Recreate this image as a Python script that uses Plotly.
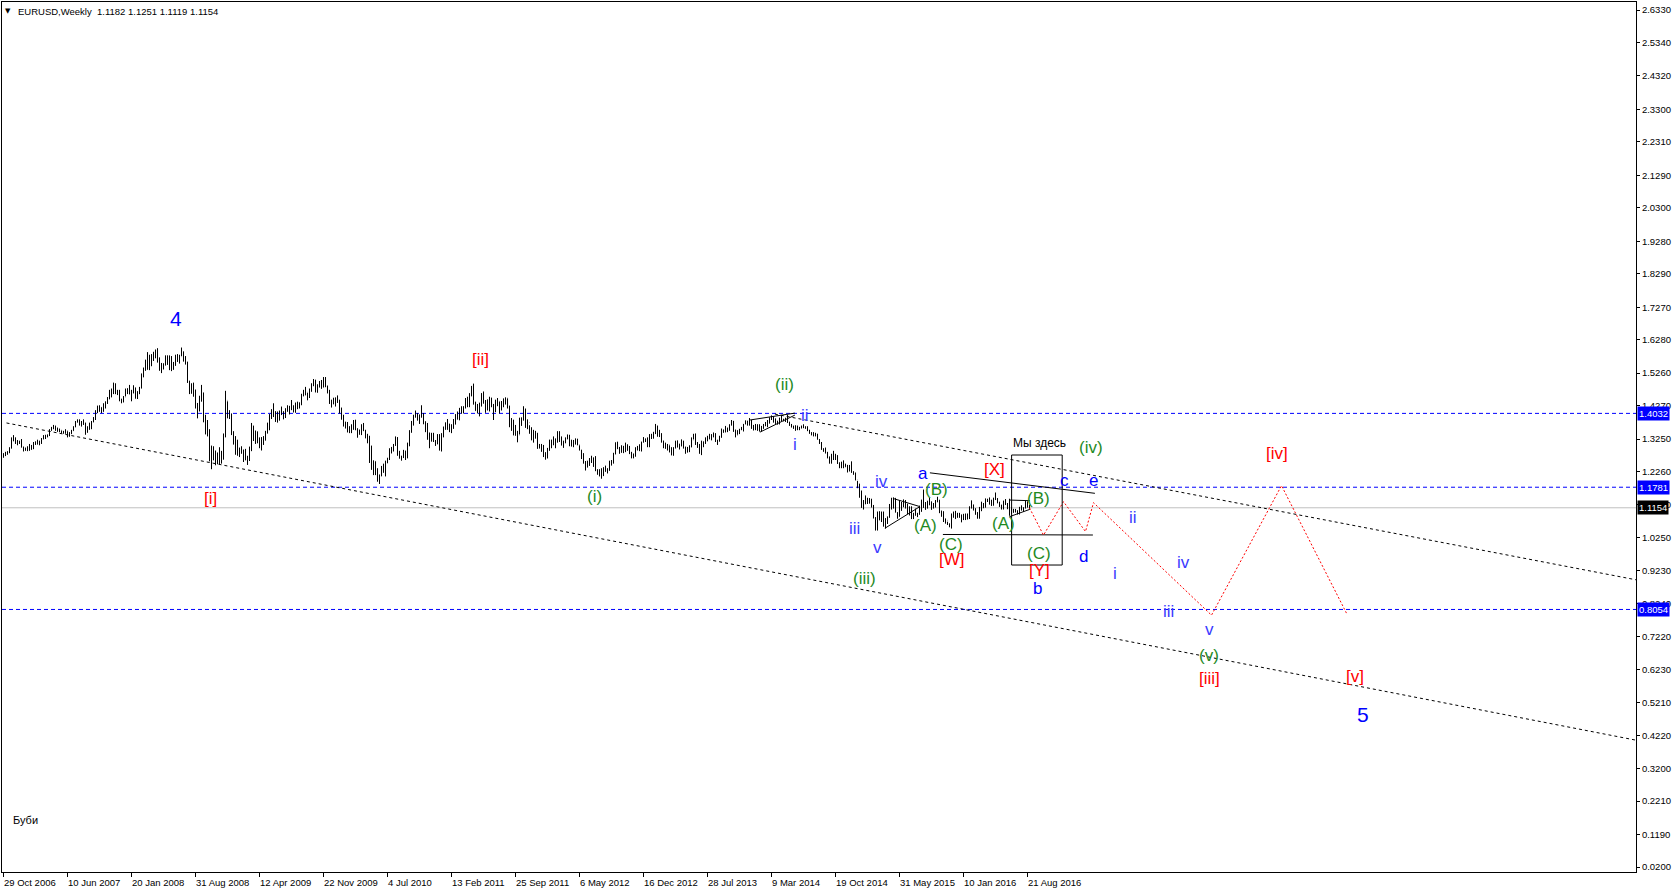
import plotly.graph_objects as go
import pandas as pd

# ---------------- data ----------------
first_bar_date = "2006-10-29"
first_open = 1.2700

wk_high = [
 1.282,1.286,1.288,1.300,1.330,1.337,1.330,1.322,1.320,1.325,
 # 2007
 1.302,1.299,1.303,1.310,1.307,1.316,1.318,1.323,1.320,1.328,1.337,1.338,1.339,1.355,1.362,1.368,1.366,1.360,1.357,1.351,1.350,1.355,1.349,1.346,1.353,1.364,
 1.380,1.385,1.385,1.380,1.385,1.375,1.364,1.375,1.380,1.392,1.413,1.427,1.428,1.422,1.434,1.440,1.453,1.475,1.479,1.497,1.495,1.475,1.475,1.448,1.456,1.479,
 # 2008
 1.480,1.490,1.475,1.489,1.482,1.471,1.484,1.525,1.543,1.567,1.590,1.582,1.584,1.591,1.598,1.602,1.574,1.557,1.556,1.580,1.580,1.580,1.578,1.560,1.582,1.584,
 1.582,1.604,1.592,1.578,1.561,1.503,1.495,1.497,1.476,1.435,1.457,1.490,1.467,1.399,1.383,1.355,1.305,1.303,1.290,1.284,1.300,1.289,1.342,1.472,1.440,1.413,
 # 2009
 1.403,1.349,1.334,1.323,1.299,1.303,1.293,1.295,1.274,1.302,1.374,1.366,1.351,1.348,1.330,1.331,1.334,1.350,1.375,1.401,1.416,1.434,1.410,1.409,1.412,1.424,
 1.410,1.419,1.428,1.426,1.444,1.428,1.436,1.439,1.437,1.463,1.475,1.484,1.466,1.479,1.495,1.508,1.506,1.492,1.502,1.505,1.514,1.514,1.488,1.475,1.445,1.451,
 # 2010
 1.452,1.458,1.445,1.421,1.399,1.378,1.377,1.364,1.370,1.383,1.384,1.358,1.354,1.370,1.374,1.353,1.341,1.335,1.305,1.260,1.257,1.236,1.217,1.243,1.250,1.259,
 1.268,1.297,1.301,1.310,1.333,1.331,1.289,1.274,1.292,1.289,1.314,1.352,1.380,1.399,1.412,1.404,1.400,1.428,1.404,1.379,1.374,1.345,1.344,1.344,1.322,1.340,
 # 2011
 1.340,1.343,1.363,1.376,1.386,1.372,1.370,1.386,1.401,1.409,1.420,1.425,1.425,1.450,1.454,1.465,1.487,1.494,1.439,1.432,1.436,1.465,1.470,1.444,1.446,1.454,
 1.451,1.432,1.445,1.450,1.439,1.441,1.449,1.452,1.449,1.427,1.389,1.384,1.368,1.350,1.390,1.391,1.425,1.418,1.385,1.367,1.361,1.353,1.350,1.344,1.310,1.310,
 # 2012
 1.307,1.285,1.298,1.323,1.323,1.333,1.327,1.349,1.349,1.333,1.320,1.330,1.339,1.338,1.323,1.322,1.327,1.326,1.306,1.292,1.282,1.258,1.259,1.267,1.274,1.269,
 1.273,1.233,1.233,1.236,1.239,1.244,1.236,1.259,1.261,1.283,1.315,1.317,1.301,1.306,1.304,1.314,1.309,1.304,1.286,1.281,1.300,1.304,1.309,1.317,1.331,1.327,1.330,
 # 2013
 1.340,1.341,1.347,1.371,1.366,1.353,1.343,1.320,1.314,1.310,1.306,1.300,1.300,1.320,1.321,1.311,1.324,1.320,1.302,1.301,1.306,1.330,1.341,1.342,1.316,1.310,
 1.320,1.318,1.330,1.335,1.341,1.340,1.345,1.343,1.323,1.335,1.357,1.354,1.365,1.360,1.370,1.383,1.380,1.354,1.352,1.356,1.362,1.371,1.382,1.381,1.389,1.383,
 # 2014
 1.368,1.371,1.370,1.370,1.365,1.371,1.377,1.383,1.391,1.397,1.394,1.388,1.381,1.390,1.397,1.387,1.390,1.399,1.378,1.371,1.366,1.367,1.366,1.362,1.366,1.370,
 1.364,1.364,1.353,1.346,1.346,1.344,1.341,1.325,1.316,1.297,1.299,1.286,1.272,1.280,1.289,1.280,1.276,1.254,1.256,1.260,1.250,1.246,1.246,1.257,1.227,1.223,
 # 2015
 1.197,1.189,1.168,1.139,1.153,1.146,1.145,1.143,1.124,1.087,1.104,1.105,1.104,1.104,1.084,1.089,1.127,1.146,1.147,1.145,1.102,1.138,1.133,1.141,1.139,1.128,
 1.120,1.120,1.100,1.113,1.100,1.122,1.140,1.171,1.133,1.137,1.146,1.135,1.130,1.139,1.149,1.140,1.107,1.105,1.083,1.073,1.068,1.098,1.104,1.106,1.100,1.100,
 # 2016
 1.095,1.097,1.098,1.098,1.120,1.138,1.125,1.114,1.102,1.118,1.134,1.130,1.144,1.143,1.147,1.140,1.146,1.162,1.145,1.134,1.125,1.137,1.142,1.130,1.143,1.117,
 1.112,1.112,1.108,1.118,1.123,1.117,1.137,1.135,1.1251,
]

wk_low = [
 1.268,1.273,1.277,1.282,1.296,1.318,1.310,1.306,1.310,1.299,
 # 2007
 1.287,1.289,1.288,1.289,1.292,1.294,1.307,1.308,1.306,1.310,1.324,1.325,1.330,1.334,1.350,1.355,1.350,1.347,1.346,1.342,1.341,1.341,1.330,1.332,1.340,1.350,
 1.361,1.375,1.366,1.363,1.368,1.338,1.344,1.353,1.355,1.376,1.383,1.404,1.408,1.404,1.408,1.418,1.432,1.446,1.452,1.462,1.462,1.459,1.440,1.434,1.437,1.455,
 # 2008
 1.462,1.461,1.440,1.464,1.448,1.447,1.462,1.479,1.513,1.533,1.536,1.535,1.547,1.563,1.571,1.558,1.533,1.526,1.537,1.549,1.551,1.535,1.532,1.536,1.548,1.560,
 1.555,1.578,1.561,1.552,1.496,1.462,1.463,1.454,1.418,1.388,1.409,1.439,1.376,1.339,1.333,1.257,1.233,1.260,1.245,1.248,1.246,1.250,1.262,1.330,1.388,1.386,
 # 2009
 1.337,1.308,1.277,1.274,1.270,1.280,1.255,1.260,1.246,1.258,1.288,1.319,1.310,1.312,1.297,1.290,1.307,1.320,1.342,1.352,1.386,1.392,1.377,1.375,1.381,1.398,
 1.385,1.389,1.408,1.400,1.413,1.406,1.405,1.416,1.418,1.428,1.455,1.458,1.443,1.450,1.469,1.486,1.467,1.466,1.482,1.478,1.482,1.483,1.464,1.432,1.421,1.431,
 # 2010
 1.424,1.435,1.403,1.384,1.363,1.357,1.345,1.343,1.343,1.353,1.352,1.329,1.338,1.337,1.349,1.327,1.312,1.252,1.231,1.215,1.215,1.195,1.188,1.212,1.222,1.211,
 1.251,1.261,1.281,1.287,1.304,1.274,1.265,1.259,1.267,1.261,1.266,1.303,1.344,1.366,1.390,1.381,1.371,1.390,1.370,1.346,1.323,1.297,1.317,1.316,1.304,1.309,
 # 2011
 1.290,1.287,1.330,1.353,1.353,1.346,1.343,1.356,1.369,1.384,1.382,1.402,1.403,1.418,1.422,1.422,1.455,1.430,1.411,1.403,1.394,1.424,1.433,1.405,1.412,1.409,
 1.422,1.383,1.407,1.425,1.403,1.412,1.422,1.430,1.418,1.361,1.350,1.336,1.335,1.315,1.339,1.365,1.381,1.359,1.355,1.341,1.321,1.314,1.326,1.295,1.296,1.286,
 # 2012
 1.270,1.262,1.266,1.289,1.297,1.306,1.297,1.314,1.316,1.305,1.298,1.312,1.324,1.303,1.302,1.300,1.308,1.306,1.290,1.264,1.250,1.229,1.238,1.243,1.252,1.240,
 1.227,1.216,1.211,1.204,1.212,1.225,1.220,1.228,1.244,1.250,1.278,1.294,1.280,1.283,1.282,1.285,1.289,1.279,1.266,1.266,1.271,1.290,1.288,1.287,1.314,1.316,1.300,
 # 2013
 1.300,1.325,1.326,1.340,1.332,1.331,1.314,1.297,1.295,1.290,1.284,1.275,1.274,1.296,1.299,1.293,1.303,1.296,1.280,1.284,1.285,1.300,1.324,1.307,1.298,1.280,
 1.276,1.300,1.310,1.318,1.324,1.321,1.330,1.316,1.307,1.317,1.329,1.344,1.345,1.346,1.350,1.366,1.347,1.330,1.338,1.340,1.352,1.348,1.370,1.366,1.366,1.356,
 # 2014
 1.351,1.352,1.350,1.348,1.348,1.356,1.364,1.361,1.372,1.383,1.375,1.371,1.369,1.370,1.379,1.379,1.377,1.374,1.365,1.360,1.356,1.350,1.352,1.352,1.357,1.358,
 1.356,1.349,1.341,1.336,1.333,1.333,1.323,1.310,1.292,1.286,1.281,1.266,1.250,1.250,1.261,1.261,1.249,1.236,1.236,1.236,1.240,1.223,1.226,1.222,1.216,1.199,
 # 2015
 1.175,1.146,1.115,1.110,1.126,1.127,1.128,1.116,1.083,1.046,1.046,1.077,1.072,1.058,1.052,1.066,1.085,1.110,1.113,1.101,1.082,1.088,1.106,1.117,1.113,1.096,
 1.092,1.081,1.081,1.091,1.087,1.094,1.103,1.115,1.109,1.113,1.123,1.109,1.113,1.116,1.132,1.099,1.088,1.072,1.067,1.063,1.056,1.052,1.085,1.081,1.085,1.085,
 # 2016
 1.071,1.078,1.078,1.080,1.081,1.113,1.107,1.094,1.082,1.082,1.105,1.114,1.116,1.133,1.125,1.121,1.122,1.139,1.129,1.118,1.110,1.110,1.124,1.111,1.091,1.096,
 1.100,1.101,1.095,1.095,1.107,1.103,1.113,1.116,1.1119,
]

wk_close = [
 1.275,1.282,1.283,1.297,1.327,1.328,1.316,1.313,1.316,1.300,
 # 2007
 1.293,1.295,1.295,1.305,1.298,1.311,1.315,1.318,1.312,1.326,1.330,1.335,1.337,1.353,1.357,1.363,1.355,1.351,1.352,1.345,1.348,1.351,1.334,1.344,1.350,1.362,
 1.378,1.382,1.371,1.371,1.373,1.350,1.360,1.370,1.377,1.387,1.409,1.422,1.422,1.411,1.432,1.434,1.451,1.472,1.464,1.491,1.463,1.464,1.443,1.437,1.453,1.474,
 # 2008
 1.467,1.465,1.468,1.481,1.451,1.463,1.481,1.520,1.535,1.565,1.543,1.579,1.574,1.580,1.587,1.564,1.539,1.547,1.551,1.578,1.554,1.574,1.541,1.553,1.580,1.569,
 1.576,1.592,1.569,1.555,1.500,1.467,1.488,1.469,1.426,1.424,1.441,1.462,1.381,1.343,1.342,1.270,1.272,1.273,1.257,1.262,1.271,1.270,1.335,1.443,1.396,1.398,
 # 2009
 1.344,1.323,1.282,1.281,1.295,1.286,1.286,1.266,1.266,1.293,1.359,1.327,1.348,1.319,1.303,1.326,1.325,1.342,1.353,1.398,1.415,1.396,1.396,1.398,1.404,1.404,
 1.396,1.414,1.421,1.425,1.418,1.419,1.435,1.432,1.431,1.459,1.467,1.468,1.456,1.476,1.491,1.502,1.471,1.485,1.489,1.496,1.498,1.486,1.468,1.435,1.436,1.432,
 # 2010
 1.441,1.439,1.414,1.386,1.367,1.363,1.361,1.363,1.363,1.377,1.353,1.341,1.351,1.368,1.352,1.338,1.330,1.275,1.236,1.257,1.228,1.197,1.211,1.239,1.237,1.257,
 1.264,1.293,1.290,1.306,1.328,1.276,1.271,1.273,1.290,1.271,1.305,1.350,1.379,1.395,1.396,1.395,1.394,1.403,1.378,1.370,1.324,1.338,1.328,1.320,1.310,1.338,
 # 2011
 1.291,1.338,1.361,1.361,1.357,1.350,1.368,1.375,1.399,1.390,1.418,1.409,1.423,1.448,1.442,1.458,1.481,1.432,1.411,1.416,1.432,1.464,1.434,1.431,1.424,1.450,
 1.426,1.415,1.436,1.440,1.428,1.424,1.439,1.450,1.422,1.365,1.379,1.350,1.338,1.337,1.388,1.389,1.415,1.377,1.375,1.352,1.324,1.345,1.338,1.304,1.308,1.296,
 # 2012
 1.272,1.267,1.293,1.322,1.315,1.319,1.316,1.345,1.322,1.312,1.317,1.327,1.334,1.310,1.308,1.321,1.324,1.308,1.292,1.272,1.252,1.243,1.256,1.264,1.257,1.267,
 1.230,1.226,1.215,1.232,1.238,1.229,1.233,1.251,1.258,1.281,1.313,1.299,1.286,1.303,1.295,1.302,1.294,1.283,1.271,1.275,1.297,1.299,1.292,1.316,1.318,1.322,1.307,
 # 2013
 1.338,1.331,1.345,1.364,1.336,1.337,1.319,1.302,1.301,1.308,1.299,1.282,1.299,1.311,1.305,1.303,1.312,1.298,1.284,1.293,1.300,1.322,1.334,1.312,1.302,1.283,
 1.307,1.314,1.328,1.328,1.334,1.333,1.338,1.318,1.319,1.330,1.352,1.349,1.357,1.354,1.368,1.380,1.349,1.336,1.350,1.355,1.359,1.370,1.374,1.368,1.374,1.359,
 # 2014
 1.362,1.354,1.368,1.349,1.363,1.369,1.374,1.380,1.391,1.391,1.378,1.375,1.370,1.388,1.381,1.383,1.387,1.375,1.369,1.363,1.363,1.364,1.354,1.361,1.364,1.361,
 1.361,1.352,1.343,1.343,1.341,1.340,1.324,1.313,1.295,1.292,1.283,1.268,1.252,1.263,1.276,1.267,1.252,1.245,1.253,1.239,1.245,1.229,1.237,1.223,1.219,1.200,
 # 2015
 1.184,1.157,1.121,1.129,1.131,1.139,1.138,1.120,1.084,1.049,1.083,1.089,1.097,1.060,1.081,1.087,1.120,1.120,1.145,1.101,1.096,1.112,1.126,1.135,1.117,1.110,
 1.116,1.083,1.098,1.098,1.097,1.110,1.139,1.118,1.115,1.134,1.129,1.120,1.121,1.136,1.135,1.102,1.101,1.074,1.077,1.065,1.059,1.088,1.099,1.087,1.097,1.086,
 # 2016
 1.093,1.092,1.080,1.083,1.116,1.125,1.113,1.101,1.100,1.115,1.127,1.117,1.139,1.140,1.128,1.122,1.145,1.140,1.131,1.122,1.114,1.136,1.125,1.128,1.114,1.111,
 1.105,1.104,1.097,1.117,1.109,1.116,1.132,1.1182,1.1154,
]

x_tick_labels = ["29 Oct 2006", "10 Jun 2007", "20 Jan 2008", "31 Aug 2008", "12 Apr 2009",
                 "22 Nov 2009", "4 Jul 2010", "13 Feb 2011", "25 Sep 2011", "6 May 2012",
                 "16 Dec 2012", "28 Jul 2013", "9 Mar 2014", "19 Oct 2014", "31 May 2015",
                 "10 Jan 2016", "21 Aug 2016"]

y_tick_values = [2.6330, 2.5340, 2.4320, 2.3300, 2.2310, 2.1290, 2.0300, 1.9280, 1.8290,
                 1.7270, 1.6280, 1.5260, 1.4270, 1.3250, 1.2260, 1.1240, 1.0250, 0.9230,
                 0.8240, 0.7220, 0.6230, 0.5210, 0.4220, 0.3200, 0.2210, 0.1190, 0.0200]

blue_levels = [1.4032, 1.1781, 0.8054]
bid_price = 1.1154
header_text = "EURUSD,Weekly\u00a0\u00a01.1182 1.1251 1.1119 1.1154"

# channel lines (bar number, price)
chan_lower_bar = [1.5, 817.0]
chan_lower_price = [1.374, 0.406]
chan_upper_bar = [385.7, 817.0]
chan_upper_price = [1.401, 0.895]

# solid drawn segments: (bar0, price0, bar1, price1)
seg_bar0 = [373.2, 378.2, 444.7, 440.7, 463.2, 469.7, 502.9, 502.9]
seg_p0 = [1.383, 1.346, 1.144, 1.053, 1.222, 1.034, 1.139, 1.088]
seg_bar1 = [395.7, 395.7, 458.2, 458.2, 545.7, 544.7, 513.2, 513.2]
seg_p1 = [1.404, 1.398, 1.119, 1.119, 1.1595, 1.0324, 1.137, 1.1107]

# "we are here" box
box_bar = [504.05, 529.35]
box_price = [0.9409, 1.2763]

# projected path (red dotted)
proj_bar = [513, 520, 530, 541, 545, 604, 639, 671.5]
proj_price = [1.115, 1.032, 1.134, 1.043, 1.131, 0.788, 1.183, 0.794]

# wave labels
lab_text = ["4", "[ii]", "[i]", "(ii)", "(i)", "ii", "i", "iii", "iv", "v", "(iii)",
            "a", "(B)", "(A)", "(C)", "[W]", "[X]", "(A)", "(B)", "(C)", "[Y]", "b",
            "c", "e", "(iv)", "d", "i", "ii", "iv", "iii", "v", "(v)", "[iii]", "[iv]",
            "[v]", "5"]
lab_bar = [86.4, 238.7, 103.55, 390.5, 295.7, 400.7, 395.7, 425.7, 439.2, 436.85, 430.7,
           459.85, 466.55, 461.2, 473.55, 474.05, 495.7, 499.85, 517.35, 517.7, 518.2, 516.85,
           530.7, 544.85, 543.7, 539.85, 555.7, 564.55, 589.85, 582.7, 602.85, 602.85, 602.85,
           636.85, 675.7, 679.85]
lab_price = [1.692, 1.566, 1.144, 1.490, 1.151, 1.398, 1.307, 1.051, 1.197, 0.994, 0.900,
             1.2205, 1.170, 1.060, 1.005, 0.958, 1.231, 1.066, 1.144, 0.977, 0.924, 0.870,
             1.198, 1.198, 1.300, 0.966, 0.9165, 1.086, 0.948, 0.7985, 0.745, 0.6665, 0.5955,
             1.2815, 0.6004, 0.4867]
lab_kind = ["deg", "red", "red", "green", "green", "rom", "rom", "rom", "rom", "rom", "green",
            "abc", "green", "green", "green", "red", "red", "green", "green", "green", "red", "abc",
            "abc", "abc", "green", "abc", "rom", "rom", "rom", "rom", "rom", "green", "red",
            "red", "red", "deg"]

# ---------------- figure ----------------
FONT = "Liberation Sans, Arial, sans-serif"
kind_color = {"deg": "#0000ff", "red": "#ff0000", "green": "#1f8a1f", "rom": "#3a3aff", "abc": "#0000ff"}
kind_size = {"deg": 21, "red": 17, "green": 17, "rom": 17, "abc": 17}

n = len(wk_close)
if not (len(wk_high) == n and len(wk_low) == n):
    raise ValueError(f"lengths {len(wk_high)} {len(wk_low)} {n}")
start = pd.Timestamp(first_bar_date)
bars = list(range(n))
opens = [first_open] + wk_close[:-1]

fig = go.Figure()
fig.add_trace(go.Ohlc(x=bars, open=opens, high=wk_high, low=wk_low, close=wk_close,
                      increasing=dict(line=dict(color="black", width=1)),
                      decreasing=dict(line=dict(color="black", width=1)),
                      tickwidth=0.15, hoverinfo="skip", showlegend=False))

for b, p in ((chan_lower_bar, chan_lower_price), (chan_upper_bar, chan_upper_price)):
    fig.add_trace(go.Scatter(x=b, y=p, mode="lines", showlegend=False, hoverinfo="skip",
                             line=dict(color="black", width=1, dash="3px,3px")))

for b0, p0, b1, p1 in zip(seg_bar0, seg_p0, seg_bar1, seg_p1):
    fig.add_trace(go.Scatter(x=[b0, b1], y=[p0, p1], mode="lines", showlegend=False,
                             hoverinfo="skip", line=dict(color="black", width=1)))

fig.add_trace(go.Scatter(x=proj_bar, y=proj_price, mode="lines", showlegend=False, hoverinfo="skip",
                         line=dict(color="#ff0000", width=1, dash="2px,2px")))

shapes = []
for lv in blue_levels:
    shapes.append(dict(type="line", xref="paper", x0=0, x1=1, yref="y", y0=lv, y1=lv,
                       line=dict(color="#0000ff", width=1, dash="4px,3px"), layer="below"))
shapes.append(dict(type="line", xref="paper", x0=0, x1=1, yref="y", y0=bid_price, y1=bid_price,
                   line=dict(color="#c0c0c0", width=1), layer="below"))
shapes.append(dict(type="rect", xref="x", yref="y", x0=box_bar[0], x1=box_bar[1],
                   y0=box_price[0], y1=box_price[1], line=dict(color="black", width=1)))

ann = []
for t, b, p, k in zip(lab_text, lab_bar, lab_price, lab_kind):
    ann.append(dict(x=b, y=p, xref="x", yref="y", text=t, showarrow=False,
                    xanchor="center", yanchor="middle",
                    font=dict(family=FONT, size=kind_size[k], color=kind_color[k])))
ann.append(dict(x=517.85, y=1.3138, xref="x", yref="y", text="Мы здесь", showarrow=False,
                font=dict(family=FONT, size=12, color="black")))
ann.append(dict(x=3.75, y=0.1635, xref="x", yref="y", text="Буби", showarrow=False,
                xanchor="left", font=dict(family=FONT, size=11, color="black")))
# header
ann.append(dict(x=0, y=1, xref="paper", yref="paper", text="▼", showarrow=False,
                xanchor="left", yanchor="middle", xshift=1, yshift=-9,
                font=dict(family="DejaVu Sans", size=7, color="black")))
ann.append(dict(x=0, y=1, xref="paper", yref="paper", text=header_text, showarrow=False,
                xanchor="left", yanchor="middle", xshift=14, yshift=-9,
                font=dict(family=FONT, size=9.5, color="black")))
# price tags
for lv, bg in ((1.4032, "#0000ff"), (1.1781, "#0000ff"), (bid_price, "#000000"), (0.8054, "#0000ff")):
    ann.append(dict(x=1, y=lv, xref="paper", yref="y", text=f"{lv:.4f}", showarrow=False,
                    xanchor="left", yanchor="middle", xshift=1, bgcolor=bg, borderpad=1,
                    font=dict(family=FONT, size=9.5, color="white")))
# x tick labels (left-aligned at tick, MT4 style)
tick_pos = [(pd.Timestamp(s) - start).days / 7.0 for s in x_tick_labels]
for s, pos in zip(x_tick_labels, tick_pos):
    ann.append(dict(x=pos, y=0, xref="x", yref="paper", text=s, showarrow=False,
                    xanchor="left", yanchor="top", xshift=-2, yshift=-3,
                    font=dict(family=FONT, size=9.5, color="black")))

fig.update_layout(
    width=1676, height=892,
    margin=dict(l=2, r=40, t=2, b=20, pad=0),
    paper_bgcolor="white", plot_bgcolor="white",
    showlegend=False, shapes=shapes, annotations=ann,
    xaxis=dict(range=[-0.75, 816.25], showgrid=False, zeroline=False, showline=True,
               linecolor="black", linewidth=1, mirror=True, ticks="outside", ticklen=4,
               tickcolor="black", tickvals=tick_pos, showticklabels=False,
               rangeslider=dict(visible=False), fixedrange=True),
    yaxis=dict(range=[0.0050, 2.6574], side="right", showgrid=False, zeroline=False,
               showline=True, linecolor="black", linewidth=1, mirror=True,
               ticks="outside", ticklen=3, tickcolor="black", automargin=False,
               tickvals=y_tick_values, ticktext=[f"{v:.4f}" for v in y_tick_values],
               tickfont=dict(family=FONT, size=9.5, color="black"), fixedrange=True),
)

fig.write_html("out.html", config={"displayModeBar": False})

# remove the default page margin so the figure sits at the window's top-left corner
with open("out.html", "r", encoding="utf-8") as f:
    page = f.read()
page = page.replace("<head>", "<head><style>html,body{margin:0;padding:0;overflow:hidden;}</style>", 1)
with open("out.html", "w", encoding="utf-8") as f:
    f.write(page)
